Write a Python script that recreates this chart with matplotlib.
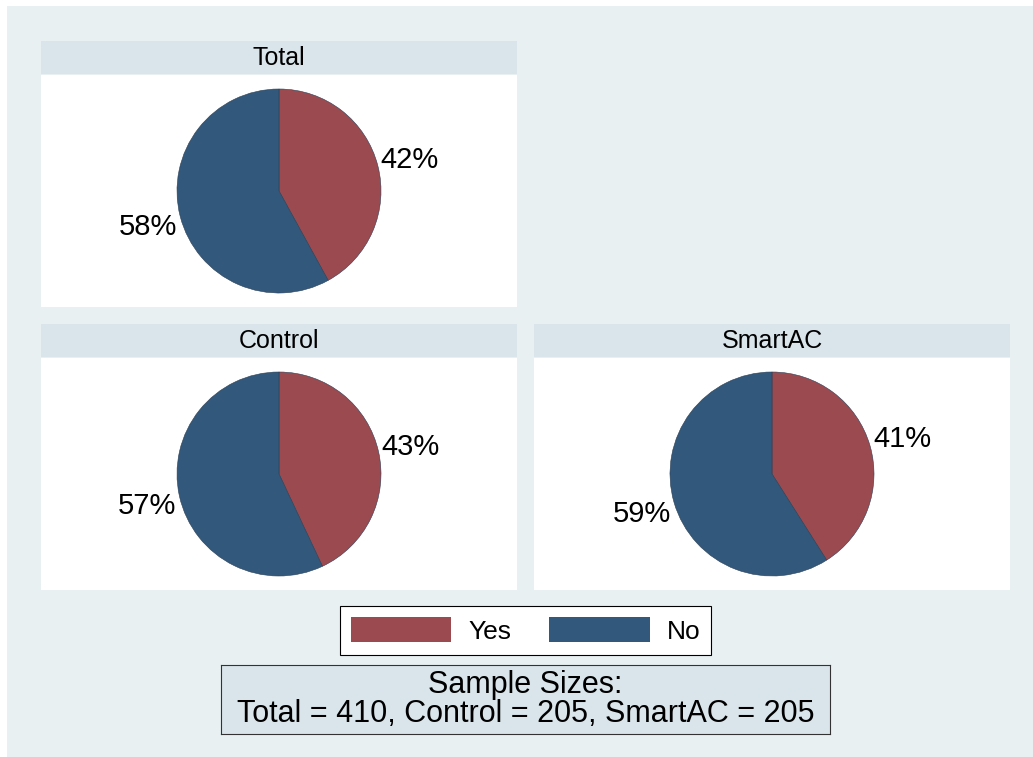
import numpy as np
import matplotlib
matplotlib.use("Agg")
import matplotlib.pyplot as plt
from matplotlib.patches import Rectangle

plt.rcParams['font.family'] = ['Liberation Sans', 'DejaVu Sans']

groups = ['Total', 'Control', 'SmartAC']
categories = ['Yes', 'No']
yes_pct = [42, 43, 41]
no_pct = [58, 57, 59]
sample_n = [410, 205, 205]

red = '#9b4a50'
blue = '#32587b'
outer_bg = '#e8f0f2'
head_bg = '#d9e5eb'

W, H = 1033, 757
fig = plt.figure(figsize=(W / 100, H / 100), dpi=100)
fig.patch.set_facecolor(outer_bg)
# thin white strip along top and left edges
fig.patches.append(Rectangle((0, 0), 7 / W, 1, transform=fig.transFigure,
                             facecolor='white', edgecolor='none', zorder=-10))
fig.patches.append(Rectangle((0, 1 - 6 / H), 1, 6 / H, transform=fig.transFigure,
                             facecolor='white', edgecolor='none', zorder=-10))


def px_axes(x0, y0, x1, y1):
    # pixel box (top-left origin) -> figure axes
    return fig.add_axes([x0 / W, 1 - y1 / H, (x1 - x0) / W, (y1 - y0) / H])


# panel boxes: (left, header top, right, bottom)
boxes = [(41, 41, 517, 307), (41, 324, 517, 590), (534, 324, 1010, 590)]
head_h = 33
r_px = 102

wedges_for_legend = None
for i, g in enumerate(groups):
    x0, y0, x1, y1 = boxes[i]
    hax = px_axes(x0, y0, x1, y0 + head_h)
    hax.set_facecolor(head_bg)
    hax.set_xticks([]); hax.set_yticks([])
    for s in hax.spines.values():
        s.set_visible(False)
    hax.text(0.5, 0.47, g, ha='center', va='center', fontsize=18, transform=hax.transAxes)

    ax = px_axes(x0, y0 + head_h + 1, x1, y1)
    ax.set_facecolor('white')
    w_px = x1 - x0
    h_px = y1 - (y0 + head_h + 1)
    vals = [yes_pct[i], no_pct[i]]
    wedges, _ = ax.pie(vals, colors=[red, blue], startangle=90, counterclock=False,
                       radius=1, frame=True,
                       wedgeprops=dict(edgecolor='#2a3f55', linewidth=0.4))
    ax.set_xlim(-w_px / 2 / r_px, w_px / 2 / r_px)
    ax.set_ylim(-h_px / 2 / r_px, h_px / 2 / r_px)
    ax.set_aspect('auto')
    ax.set_xticks([]); ax.set_yticks([])
    for s in ax.spines.values():
        s.set_visible(False)

    # percent labels outside the slices
    start = 90.0
    for v in vals:
        mid = np.deg2rad(start - v * 360 / 100 / 2)
        start -= v * 360 / 100
        cx, cy = np.cos(mid), np.sin(mid)
        ax.text(1.03 * cx, 1.31 * cy - 0.025, f'{v}%', fontsize=21,
                ha='left' if cx > 0 else 'right', va='center')
    if wedges_for_legend is None:
        wedges_for_legend = wedges

leg = fig.legend(wedges_for_legend, categories, loc='center',
                 bbox_to_anchor=(525.5 / W, 1 - 630.5 / H), ncol=2,
                 fontsize=19, handlelength=3.8, handleheight=1.06,
                 handletextpad=0.64, columnspacing=1.45, borderpad=0.42,
                 fancybox=False, framealpha=1, edgecolor='black')
leg.get_frame().set_linewidth(0.8)
for h in leg.legend_handles:
    h.set_edgecolor('none')

nax = px_axes(221, 665, 830, 734)
nax.set_facecolor(head_bg)
nax.set_xticks([]); nax.set_yticks([])
for s in nax.spines.values():
    s.set_color('#333333')
    s.set_linewidth(0.8)
line2 = ', '.join(f'{g} = {n}' for g, n in zip(groups, sample_n))
nax.text(0.5, 0.5, 'Sample Sizes:\n' + line2, ha='center', va='center',
         fontsize=22, linespacing=0.92, transform=nax.transAxes)

fig.savefig('out.png', dpi=100, facecolor=fig.get_facecolor())
